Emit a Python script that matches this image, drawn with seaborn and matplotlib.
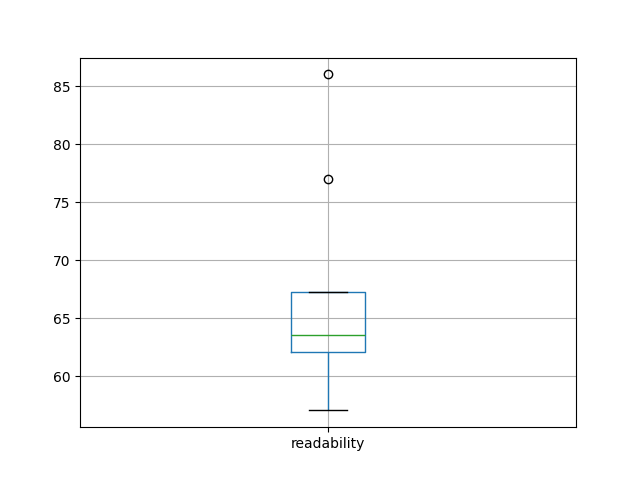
import matplotlib
matplotlib.use("Agg")
import matplotlib.pyplot as plt
import seaborn as sns
import pandas as pd

# readability scores
readability = [57.07, 60.5, 62.07, 62.9, 63.53, 65.8, 67.24, 77.0, 86.0]
df = pd.DataFrame({"readability": readability})

fig, ax = plt.subplots(figsize=(6.4, 4.8), dpi=100)
sns.boxplot(
    data=df,
    ax=ax,
    width=0.15,
    fill=False,
    linecolor="C0",
    linewidth=1,
    fliersize=6,
    medianprops={"color": "C2"},
    capprops={"color": "black"},
    flierprops={"marker": "o", "markerfacecolor": "none", "markeredgecolor": "black"},
)
ax.grid(True)
ax.set_xlim(-0.5, 0.5)

plt.savefig("out.png", dpi=100)
